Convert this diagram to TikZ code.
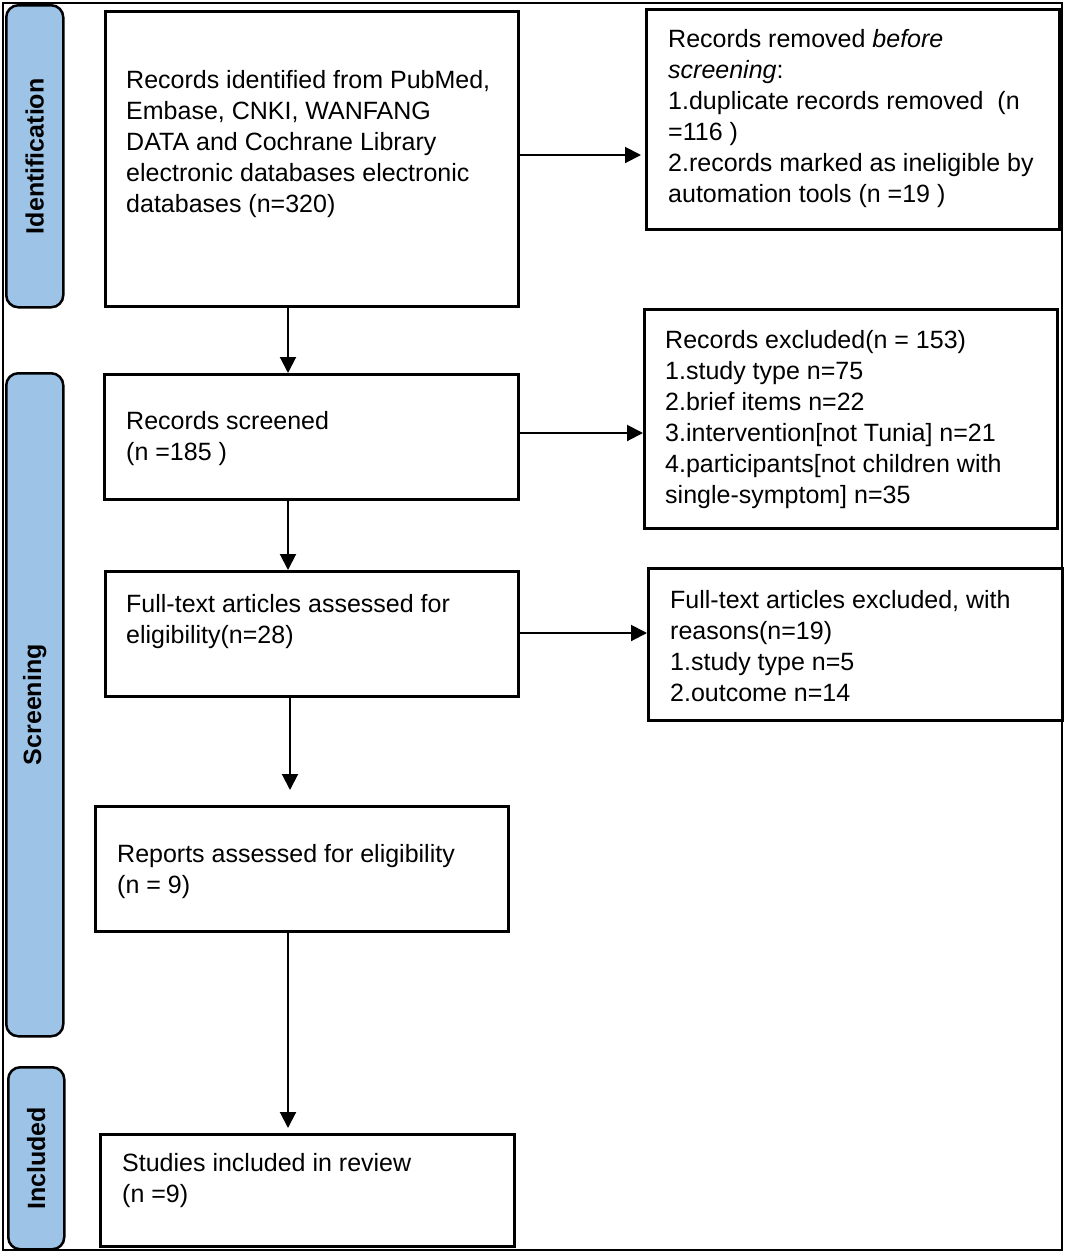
\documentclass[tikz,border=0pt]{standalone}
\usepackage{fontspec}
\setmainfont{Liberation Sans}
\usetikzlibrary{arrows.meta}
\definecolor{sidebarblue}{HTML}{9DC3E6}
\begin{document}
\begin{tikzpicture}[x=1pt,y=-1pt,
  box/.style={draw=black,line width=3pt,rectangle,inner sep=0pt,anchor=north west},
  side/.style={draw=black,line width=2.5pt,fill=sidebarblue,rounded corners=12pt,inner sep=0pt,anchor=north west},
  sidetext/.style={rotate=90,font=\fontsize{25}{30}\selectfont\bfseries},
  txt/.style={anchor=north west,inner sep=0pt,align=left,font=\fontsize{25}{31}\selectfont},
  arr/.style={draw=black,line width=2pt,-{Triangle[length=16pt,width=16pt]}}]
\useasboundingbox (0,0) rectangle (1065,1254);
\draw[line width=2pt] (3,3) rectangle (1062,1250);
% sidebars
\node[side,minimum width=57pt,minimum height=302pt] (sI) at (5,4) {};
\node[side,minimum width=57pt,minimum height=663pt] (sS) at (5,372) {};
\node[side,minimum width=56pt,minimum height=182pt] (sC) at (7,1066) {};
\node[sidetext] at (sI.center) {Identification};
\node[sidetext] at (sS.center) {Screening};
\node[sidetext] at (sC.center) {Included};
% boxes
\node[box,minimum width=413pt,minimum height=295pt] (b1) at (104,10) {};
\node[box,minimum width=413pt,minimum height=220pt] (b2) at (645,8) {};
\node[box,minimum width=414pt,minimum height=125pt] (b3) at (103,373) {};
\node[box,minimum width=413pt,minimum height=219pt] (b4) at (643,308) {};
\node[box,minimum width=413pt,minimum height=125pt] (b5) at (104,570) {};
\node[box,minimum width=414pt,minimum height=152pt] (b6) at (647,567) {};
\node[box,minimum width=413pt,minimum height=125pt] (b7) at (94,805) {};
\node[box,minimum width=414pt,minimum height=112pt] (b8) at (99,1133) {};
% texts
\node[txt] (t1) at (126,70) {Records identified from PubMed,\\Embase, CNKI, WANFANG\\DATA and Cochrane Library\\electronic databases electronic\\databases (n=320)};
\node[txt] (t2) at (668,29) {Records removed \emph{before}\\\emph{screening}:\\1.duplicate records removed~~(n\\=116 )\\2.records marked as ineligible by\\automation tools (n =19 )};
\node[txt] (t3) at (126,411) {Records screened\\(n =185 )};
\node[txt] (t4) at (665,330) {Records excluded(n = 153)\\1.study type n=75\\2.brief items n=22\\3.intervention[not Tunia] n=21\\4.participants[not children with\\single-symptom] n=35};
\node[txt] (t5) at (126,594) {Full-text articles assessed for\\eligibility(n=28)};
\node[txt] (t6) at (670,590) {Full-text articles excluded, with\\reasons(n=19)\\1.study type n=5\\2.outcome n=14};
\node[txt] (t7) at (117,844) {Reports assessed for eligibility\\(n = 9)};
\node[txt] (t8) at (122,1153) {Studies included in review\\(n =9)};
% connectors
\coordinate (vx) at (288,0);
\coordinate (vx2) at (290,0);
\draw[arr,shorten >=4pt] (b1.east |- 0,155) -- (b2.west |- 0,155);
\draw[arr] (b1.south -| vx) -- (b3.north -| vx);
\draw[arr] (b3.east |- 0,433) -- (b4.west |- 0,433);
\draw[arr] (b3.south -| vx) -- (b5.north -| vx);
\draw[arr] (b5.east |- 0,633) -- (b6.west |- 0,633);
\draw[arr,shorten >=15pt] (b5.south -| vx2) -- (b7.north -| vx2);
\draw[arr,shorten >=5pt] (b7.south -| vx) -- (b8.north -| vx);
\end{tikzpicture}
\end{document}
